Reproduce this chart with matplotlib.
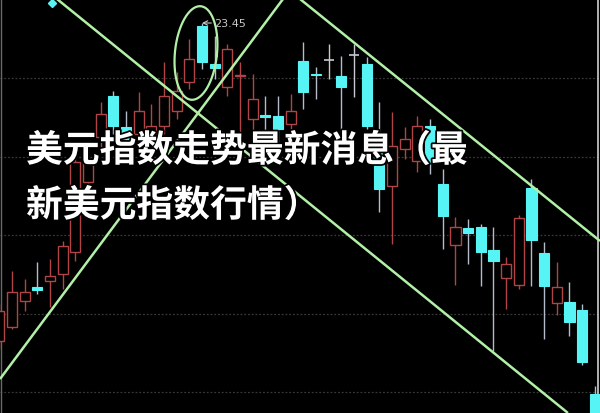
import numpy as np
import matplotlib
matplotlib.use("Agg")
import matplotlib.pyplot as plt
from matplotlib.patches import Rectangle
import matplotlib.patheffects as pe

plt.rcParams['font.family'] = ['Noto Sans CJK SC', 'DejaVu Sans']

# ---- data (daily candles) ----
opens  = [20.27, 20.41, 20.67, 20.81, 20.87, 20.94, 21.16, 21.86, 22.31, 22.72,
          22.41, 22.34, 22.19, 22.42, 22.57, 22.86, 23.42, 23.04, 22.81, 22.92,
          22.49, 22.53, 22.52, 22.44, 23.07, 22.94, 23.08, 22.92, 23.13, 23.04,
          22.16, 21.82, 22.19, 22.07, 22.42, 21.84, 21.23, 21.40, 21.41, 21.18,
          20.90, 20.83, 21.80, 21.15, 20.65, 20.66, 20.58, 19.74]
highs  = [20.64, 20.97, 20.89, 21.06, 21.09, 21.27, 22.19, 22.21, 22.66, 22.77,
          22.57, 22.76, 22.64, 23.06, 22.96, 23.29, 23.45, 23.32, 23.24, 23.06,
          22.94, 22.72, 22.72, 22.74, 23.26, 23.01, 23.24, 23.12, 23.24, 23.11,
          22.66, 22.56, 22.41, 22.52, 22.49, 21.99, 21.51, 21.49, 21.44, 21.41,
          21.11, 21.53, 21.89, 21.26, 21.06, 20.86, 20.64, 19.82]
lows   = [20.19, 20.39, 20.57, 20.74, 20.61, 20.79, 21.07, 21.74, 22.19, 22.34,
          22.19, 22.24, 22.09, 22.34, 22.49, 22.79, 22.99, 22.89, 22.72, 22.34,
          22.29, 22.19, 22.19, 22.29, 22.59, 22.69, 22.89, 22.32, 22.71, 22.39,
          21.56, 21.24, 22.09, 21.96, 21.94, 21.19, 20.83, 21.04, 20.82, 20.17,
          20.59, 20.79, 20.82, 20.29, 20.53, 20.32, 20.03, 19.49]
closes = [20.57, 20.76, 20.76, 20.78, 20.92, 21.22, 22.06, 22.09, 22.54, 22.42,
          22.29, 22.57, 22.42, 22.72, 22.77, 23.09, 23.06, 23.00, 23.19, 22.93,
          22.69, 22.51, 22.39, 22.57, 22.76, 22.93, 23.08, 22.81, 23.13, 22.42,
          21.79, 22.22, 22.29, 22.42, 22.06, 21.52, 21.41, 21.35, 21.16, 21.07,
          21.04, 21.50, 21.28, 20.82, 20.81, 20.46, 20.06, 19.49]

grid_levels = [22.90, 22.11, 21.33, 20.54, 19.76]
high_label = "23.45"
high_index = 16

# trend lines: (index, price) endpoints
trend_lines = [((4.55, 23.69), (44.88, 19.55)),
               ((0.053, 19.89), (22.39, 23.69)),
               ((23.73, 23.69), (47.41, 21.27))]
ellipse_center = (15.52, 23.15)
ellipse_px = (21, 47, 6)  # semi-axes in pixels, tilt in degrees

title_lines = ["美元指数走势最新消息（最", "新美元指数行情）"]

# ---- figure ----
W, H = 600, 414
fig = plt.figure(figsize=(W / 100, H / 100), dpi=100)
fig.patch.set_facecolor('black')
ax = fig.add_axes([0, 0, 1, 1])
ax.set_facecolor('black')
xlim = (0.053, 47.41)
ylim = (19.55, 23.69)
ax.set_xlim(*xlim)
ax.set_ylim(*ylim)
ax.axis('off')

RED = '#b04446'
CYAN = '#56f4f4'
WICK_DN = '#b4bccc'
DOJI = '#c8c8d0'
GREEN = '#b2f0a8'

for g in grid_levels:
    ax.axhline(g, color='#383838', lw=0.9, ls=(0, (1.5, 1.5)), zorder=1)

bw = 0.8
for i, (o, h, l, c) in enumerate(zip(opens, highs, lows, closes)):
    if c > o:  # up: hollow red
        ax.vlines(i, l, h, color=RED, lw=1.0, zorder=2)
        ax.add_patch(Rectangle((i - bw / 2, o), bw, c - o, facecolor='black',
                               edgecolor=RED, lw=1.0, zorder=3))
    elif c < o:  # down: filled cyan
        ax.vlines(i, l, h, color=WICK_DN, lw=1.0, zorder=2)
        ax.add_patch(Rectangle((i - bw / 2, c), bw, max(o - c, 0.012),
                               facecolor=CYAN, edgecolor=CYAN, lw=0.8, zorder=3))
    else:
        col = RED if i == 19 else DOJI
        ax.vlines(i, l, h, color=col, lw=1.0, zorder=2)
        ax.hlines(o, i - bw / 2, i + bw / 2, color=col, lw=1.2, zorder=3)

# frame lines
ax.axvline(xlim[0] + (xlim[1] - xlim[0]) * 1 / W, color='#6a6a6a', lw=1.0, zorder=1)
ax.axvline(xlim[0] + (xlim[1] - xlim[0]) * 598 / W, color='#d0d0d0', lw=1.2, zorder=1)

# small marker top-left
ax.plot([4.16], [23.65], marker='D', ms=4, color=CYAN, zorder=4)

# trend lines
for (x0, y0), (x1, y1) in trend_lines:
    ax.plot([x0, x1], [y0, y1], color=GREEN, lw=1.8, zorder=5, solid_capstyle='butt')

# ellipse around the high
pxx = W / (xlim[1] - xlim[0])
pxy = H / (ylim[1] - ylim[0])
a, b, tilt = ellipse_px
th = np.deg2rad(tilt)
t = np.linspace(0, 2 * np.pi, 200)
ex, ey = a * np.cos(t), b * np.sin(t)
rx = ex * np.cos(th) + ey * np.sin(th)
ry = -ex * np.sin(th) + ey * np.cos(th)
ax.plot(ellipse_center[0] + rx / pxx, ellipse_center[1] + ry / pxy,
        color=GREEN, lw=1.6, zorder=5)

# high label
ax.annotate(high_label, xy=(high_index, highs[high_index]),
            xytext=(high_index + 0.95, highs[high_index]),
            color='#c8c8c8', fontsize=8, va='center', ha='left',
            family=['DejaVu Sans'],
            arrowprops=dict(arrowstyle='->', color='#c8c8c8', lw=0.8,
                            shrinkA=0, shrinkB=0), zorder=6)

# overlay title text
stroke = [pe.withStroke(linewidth=2.5, foreground='black')]
fig.text(26 / W, 1 - 152 / H, title_lines[0], color='white', fontsize=26.5,
         fontweight='bold', va='center', ha='left', path_effects=stroke, zorder=10)
fig.text(26 / W, 1 - 207 / H, title_lines[1], color='white', fontsize=26.5,
         fontweight='bold', va='center', ha='left', path_effects=stroke, zorder=10)

fig.savefig('out.png', dpi=100, facecolor='black')
